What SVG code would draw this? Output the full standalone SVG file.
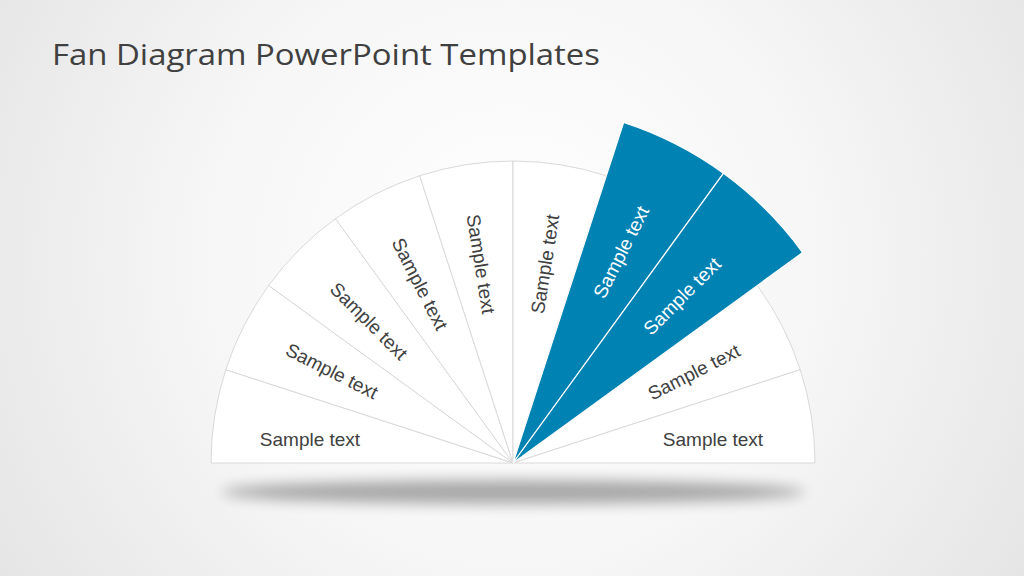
<svg xmlns="http://www.w3.org/2000/svg" width="1024" height="576" viewBox="0 0 1024 576">
<defs>
<radialGradient id="bg" cx="512" cy="260" r="620" gradientUnits="userSpaceOnUse">
<stop offset="0" stop-color="#ffffff"/>
<stop offset="0.5" stop-color="#f6f6f6"/>
<stop offset="1" stop-color="#e4e4e4"/>
</radialGradient>
<filter id="blur" x="-20%" y="-200%" width="140%" height="500%">
<feGaussianBlur stdDeviation="7"/>
</filter>
</defs>
<style>
.w{fill:#ffffff;stroke:#d9d9d9;stroke-width:1}
.b{fill:#0082B3;stroke:#ffffff;stroke-width:1.2}
.t{font-family:"Liberation Sans",Arial,sans-serif;font-size:19px;fill:#404040;text-anchor:middle}
.tw{fill:#ffffff}
.title{font-family:"Open Sans","Liberation Sans",sans-serif;font-size:29px;fill:#404040}
</style>
<rect width="1024" height="576" fill="url(#bg)"/>
<text class="title" x="52" y="65" textLength="548" lengthAdjust="spacingAndGlyphs">Fan Diagram PowerPoint Templates</text>
<ellipse cx="513" cy="492" rx="292" ry="12" fill="#000" opacity="0.32" filter="url(#blur)"/>
<g id="wedge1"><path class="w" d="M513,463 L211,463 A302,302 0 0,1 225.78,369.68 Z"/><text class="t" x="310" y="446">Sample text</text></g>
<g id="wedge2"><path class="w" d="M513,463 L225.78,369.68 A302,302 0 0,1 268.68,285.49 Z"/><text class="t" transform="translate(332,371) rotate(27)" dy="0.35em">Sample text</text></g>
<g id="wedge3"><path class="w" d="M513,463 L268.68,285.49 A302,302 0 0,1 335.49,218.68 Z"/><text class="t" transform="translate(369,321) rotate(45)" dy="0.35em">Sample text</text></g>
<g id="wedge4"><path class="w" d="M513,463 L335.49,218.68 A302,302 0 0,1 419.68,175.78 Z"/><text class="t" transform="translate(420,284) rotate(63)" dy="0.35em">Sample text</text></g>
<g id="wedge5"><path class="w" d="M513,463 L419.68,175.78 A302,302 0 0,1 513,161 Z"/><text class="t" transform="translate(481,264) rotate(81)" dy="0.35em">Sample text</text></g>
<g id="wedge6"><path class="w" d="M513,463 L513,161 A302,302 0 0,1 606.32,175.78 Z"/><text class="t" transform="translate(545,264) rotate(-81)" dy="0.35em">Sample text</text></g>
<g id="wedge9"><path class="w" d="M513,463 L757.32,285.49 A302,302 0 0,1 800.22,369.68 Z"/><text class="t" transform="translate(694,372) rotate(-27)" dy="0.35em">Sample text</text></g>
<g id="wedge10"><path class="w" d="M513,463 L800.22,369.68 A302,302 0 0,1 815,463 Z"/><text class="t" x="713" y="446">Sample text</text></g>
<g id="wedge7"><path class="b" d="M513,463 L623.63,122.52 A358,358 0 0,1 723.43,173.37 Z"/><text class="t tw" transform="translate(621,252) rotate(-63)" dy="0.35em">Sample text</text></g>
<g id="wedge8"><path class="b" d="M513,463 L723.43,173.37 A358,358 0 0,1 802.63,252.57 Z"/><text class="t tw" transform="translate(682,296) rotate(-45)" dy="0.35em">Sample text</text></g>
<g id="connectors"/>
</svg>
